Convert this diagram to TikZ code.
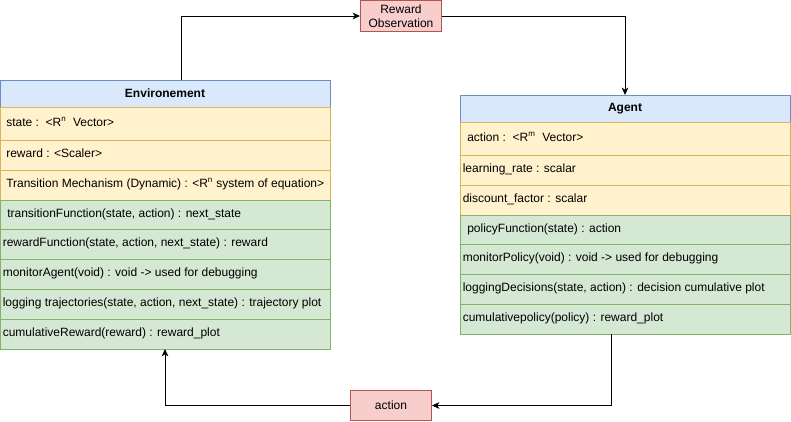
\documentclass[tikz,border=0pt]{standalone}
\usepackage{fontspec}
\setmainfont{Liberation Sans}
\usetikzlibrary{arrows.meta}
\definecolor{bluef}{HTML}{DAE8FC}\definecolor{blued}{HTML}{6C8EBF}
\definecolor{yelf}{HTML}{FFF2CC}\definecolor{yeld}{HTML}{D6B656}
\definecolor{grnf}{HTML}{D5E8D4}\definecolor{grnd}{HTML}{82B366}
\definecolor{redf}{HTML}{F8CECC}\definecolor{redd}{HTML}{B85450}
\tikzset{
  hdr/.style={fill=bluef,draw=blued},
  yel/.style={fill=yelf,draw=yeld},
  grn/.style={fill=grnf,draw=grnd},
  redbox/.style={fill=redf,draw=redd,line width=0.75pt,align=center,inner sep=0,
    font=\fontsize{9}{10.5}\selectfont},
  arr/.style={line width=0.75pt,-{Stealth[length=5.5pt,width=5pt,inset=1.5pt]}},
}
% name, x, ytop, ybot, width, style, pad, text
\newcommand\mycell[8]{%
  \node[#6,line width=0.75pt,anchor=north west,inner sep=0,outer sep=0,
    minimum width={(#5)*0.75pt},minimum height={(#4-#3)*0.75pt}] (#1) at (#2,#3) {};
  \node[anchor=west,inner sep=0,font=\fontsize{9}{10.8}\selectfont] at ([xshift={(#7)*0.75pt}]#1.west) {\strut #8};}
\newcommand\myhdr[6]{%
  \node[hdr,line width=0.75pt,anchor=north west,inner sep=0,outer sep=0,
    minimum width={(#5)*0.75pt},minimum height={(#4-#3)*0.75pt},
    font=\fontsize{9}{10.8}\selectfont\bfseries] (#1) at (#2,#3) {#6};}
\begin{document}
\begin{tikzpicture}[x=0.75pt,y=-0.75pt]
\useasboundingbox (0,0) rectangle (791,421);
% Environment
\myhdr{envh}{0}{80}{107}{330}{Environement}
\mycell{envst}{0}{107}{140}{330}{yel}{6}{state :\ \ <R\textsuperscript{n}\ \ Vector>}
\mycell{envrw}{0}{140}{170}{330}{yel}{6}{reward : <Scaler>}
\mycell{envtm}{0}{170}{200}{330}{yel}{6}{Transition Mechanism (Dynamic) : <R\textsuperscript{n} system of equation>}
\mycell{envtf}{0}{200}{229}{330}{grn}{7}{transitionFunction(state, action) : next\_state}
\mycell{envrf}{0}{229}{259}{330}{grn}{2.5}{rewardFunction(state, action, next\_state) : reward}
\mycell{envma}{0}{259}{289}{330}{grn}{2.5}{monitorAgent(void) : void -> used for debugging}
\mycell{envlg}{0}{289}{319}{330}{grn}{2.5}{logging trajectories(state, action, next\_state) : trajectory plot}
\mycell{envcr}{0}{319}{349}{330}{grn}{2.5}{cumulativeReward(reward) : reward\_plot}
% Agent
\myhdr{agh}{460}{95}{122}{330}{Agent}
\mycell{agac}{460}{122}{155}{330}{yel}{7}{action :\ \ <R\textsuperscript{m}\ \ Vector>}
\mycell{aglr}{460}{155}{185}{330}{yel}{2.5}{learning\_rate : scalar}
\mycell{agdf}{460}{185}{215}{330}{yel}{2.5}{discount\_factor : scalar}
\mycell{agpf}{460}{215}{244}{330}{grn}{7}{policyFunction(state) : action}
\mycell{agmp}{460}{244}{274}{330}{grn}{2.5}{monitorPolicy(void) : void -> used for debugging}
\mycell{agld}{460}{274}{304}{330}{grn}{2.5}{loggingDecisions(state, action) : decision cumulative plot}
\mycell{agcp}{460}{304}{334}{330}{grn}{2.5}{cumulativepolicy(policy) : reward\_plot}
% red boxes
\node[redbox,anchor=north west,minimum width=60.75pt,minimum height=23.25pt] (rew) at (360,0) {Reward\\Observation};
\node[redbox,anchor=north west,minimum width=60.75pt,minimum height=22.5pt] (act) at (350,390) {action};
% connectors
\draw[arr] ([xshift=135.75pt]envh.north west) |- (rew.west);
\draw[arr] (rew.east) -| ([xshift=123.75pt]agh.north west);
\draw[arr] ([xshift=113.25pt]agcp.south west) |- (act.east);
\draw[arr] (act.west) -| ([xshift=123.75pt]envcr.south west);
\end{tikzpicture}
\end{document}
